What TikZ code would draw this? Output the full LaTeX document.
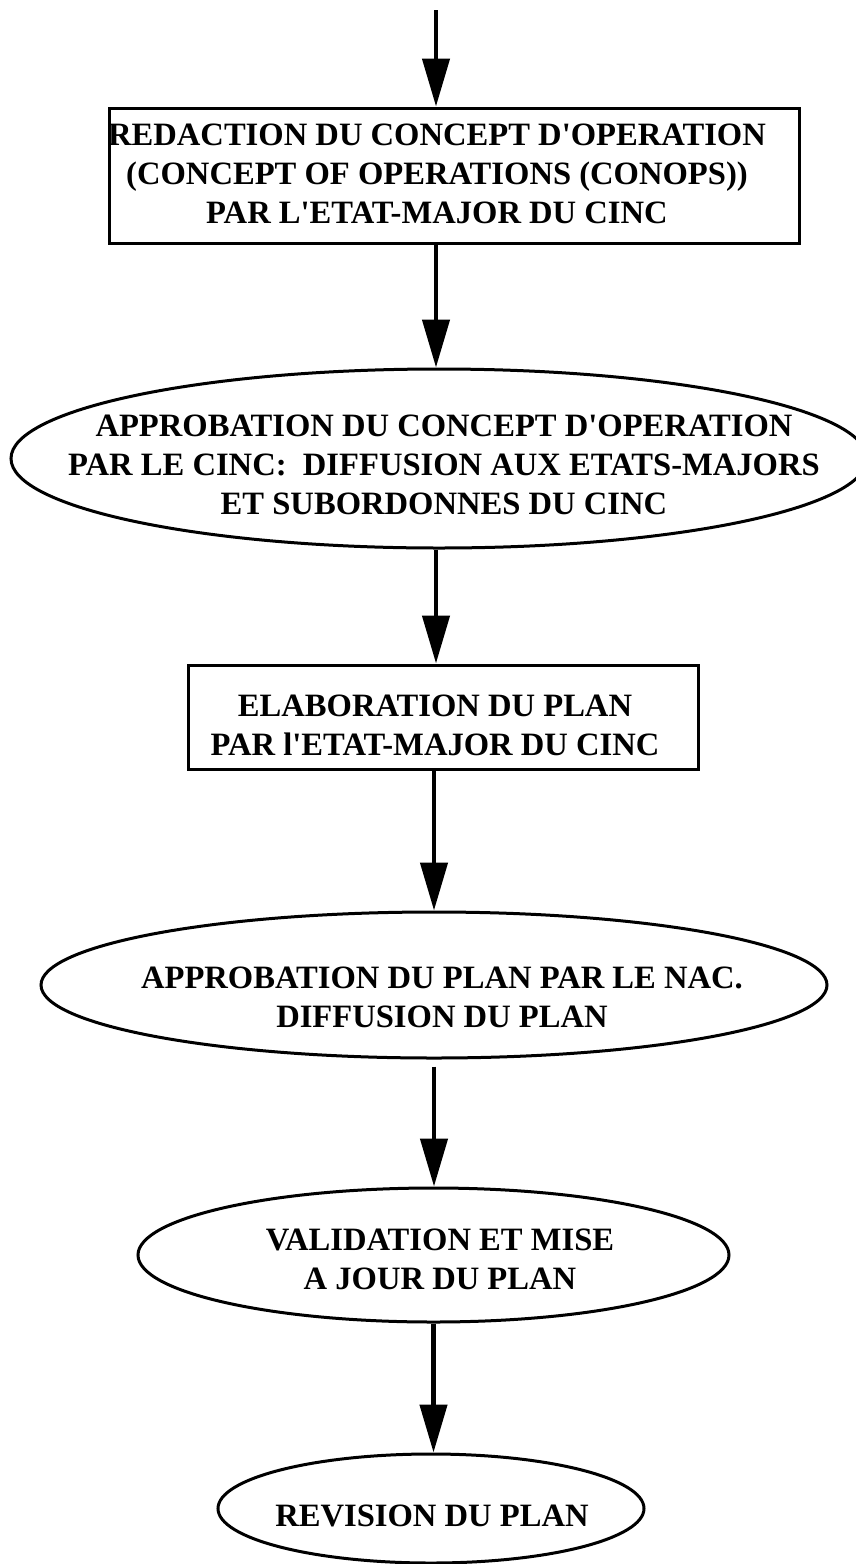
\documentclass[tikz,border=0pt]{standalone}
\usepackage{fontspec}
\setmainfont{Liberation Serif}
\usetikzlibrary{shapes.geometric,arrows.meta}
\newcommand\apos{\textquotesingle}
\begin{document}
\begin{tikzpicture}[x=1pt,y=-1pt,
  flow/.style={line width=4.5pt,-{Triangle[length=48pt,width=27pt]}},
  lbl/.style={font=\fontsize{32.6}{39}\selectfont\bfseries, align=center, inner sep=0pt},
  boxnode/.style={draw,line width=3pt,rectangle,inner sep=0pt},
  ovalnode/.style={draw,line width=3pt,ellipse,inner sep=0pt}]
\useasboundingbox (0,0) rectangle (856,1564);

\coordinate (start) at (436,10);

% 1: concept of operations drafted
\node[boxnode, minimum width=690pt, minimum height=135pt] (b1) at (454,175.5) {};
\node[lbl] (b1t) at (437,174) {REDACTION DU CONCEPT D\apos OPERATION\\(CONCEPT OF OPERATIONS (CONOPS))\\PAR L\apos ETAT-MAJOR DU CINC};

% 2: concept approved and issued
\node[ovalnode, minimum width=856pt, minimum height=179pt] (e2) at (439,458.5) {};
\node[lbl] (e2t) at (444,465) {APPROBATION DU CONCEPT D\apos OPERATION\\PAR LE CINC:\ \ DIFFUSION AUX ETATS-MAJORS\\ET SUBORDONNES DU CINC};

% 3: plan drafted
\node[boxnode, minimum width=510pt, minimum height=104pt] (b3) at (443,717) {};
\node[lbl] (b3t) at (435,725) {ELABORATION DU PLAN\\PAR l\apos ETAT-MAJOR DU CINC};

% 4: plan approved
\node[ovalnode, minimum width=786pt, minimum height=146pt] (e4) at (434,985) {};
\node[lbl] (e4t) at (442,997) {APPROBATION DU PLAN PAR LE NAC.\\DIFFUSION DU PLAN};

% 5: validation
\node[ovalnode, minimum width=591pt, minimum height=134pt] (e5) at (433.5,1255) {};
\node[lbl] (e5t) at (440,1259) {VALIDATION ET MISE\\A JOUR DU PLAN};

% 6: revision
\node[ovalnode, minimum width=426pt, minimum height=109pt] (e6) at (431,1508.5) {};
\node[lbl] (e6t) at (432,1516) {REVISION DU PLAN};

\draw[flow] (start) -- (b1.north -| start);
\draw[flow] (b1.south -| start) -- (e2.north -| start);
\draw[flow] (e2.south -| start) -- (b3.north -| start);
\draw[flow] (b3.south -| e4.north) -- (e4.north);
\draw[flow,shorten <=7pt] (e4.south) -- (e5.north -| e4.south);
\draw[flow] (e5.south) -- (e6.north -| e5.south);
\end{tikzpicture}
\end{document}
